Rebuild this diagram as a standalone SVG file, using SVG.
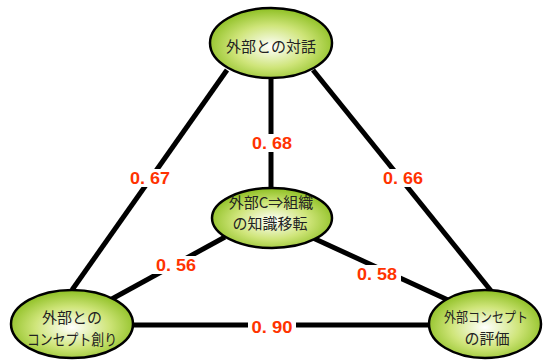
<svg xmlns="http://www.w3.org/2000/svg" width="543" height="361" viewBox="0 0 543 361">
<defs>
<radialGradient id="g" cx="50%" cy="55%" r="55%">
<stop offset="0%" stop-color="#ffffff"/>
<stop offset="55%" stop-color="#cfe57a"/>
<stop offset="100%" stop-color="#8dbf22"/>
</radialGradient>
<style>
.e{fill:url(#g);stroke:#000;stroke-width:2.5}
.t{font-family:"Noto Sans CJK JP","Noto Sans",sans-serif;font-size:15px;fill:#222;text-anchor:middle}
.c line{stroke:#000;stroke-width:5}
.lb{fill:#fff}
.l{font-family:"Liberation Sans",Arial,sans-serif;font-weight:bold;font-size:17px;fill:#ff3300;text-anchor:middle}
</style>
</defs>
<rect width="543" height="361" fill="#fff"/>
<g id="connectors" class="c">
<line x1="227" y1="70" x2="72" y2="290"/>
<line x1="313" y1="70" x2="492" y2="292"/>
<line x1="271" y1="76" x2="271" y2="190"/>
<line x1="225" y1="237" x2="110" y2="300"/>
<line x1="313" y1="238" x2="448" y2="300"/>
<line x1="130" y1="325" x2="432" y2="325"/>
<rect class="lb" x="126" y="169" width="48" height="18"/>
<text class="l" x="150" y="184" textLength="40" lengthAdjust="spacingAndGlyphs">0. 67</text>
<rect class="lb" x="379" y="169" width="48" height="18"/>
<text class="l" x="403" y="184" textLength="40" lengthAdjust="spacingAndGlyphs">0. 66</text>
<rect class="lb" x="248" y="134" width="48" height="18"/>
<text class="l" x="272" y="149" textLength="40" lengthAdjust="spacingAndGlyphs">0. 68</text>
<rect class="lb" x="152" y="256" width="48" height="18"/>
<text class="l" x="176" y="271" textLength="40" lengthAdjust="spacingAndGlyphs">0. 56</text>
<rect class="lb" x="353" y="265" width="48" height="18"/>
<text class="l" x="377" y="280" textLength="40" lengthAdjust="spacingAndGlyphs">0. 58</text>
<rect class="lb" x="248" y="317" width="48" height="18"/>
<text class="l" x="272" y="333" textLength="41" lengthAdjust="spacingAndGlyphs">0. 90</text>
</g>
<g id="n-taiwa">
<ellipse class="e" cx="271" cy="43" rx="61" ry="35"/>
<text class="t" x="271" y="52">外部との対話</text>
</g>
<g id="n-iten">
<ellipse class="e" cx="272" cy="218" rx="60" ry="30"/>
<text class="t" x="271" y="208">外部C⇒組織</text>
<text class="t" x="270" y="229">の知識移転</text>
</g>
<g id="n-souzou">
<ellipse class="e" cx="72" cy="324" rx="61" ry="34"/>
<text class="t" x="72" y="323">外部との</text>
<text class="t" x="72" y="345" textLength="90" lengthAdjust="spacingAndGlyphs">コンセプト創り</text>
</g>
<g id="n-hyouka">
<ellipse class="e" cx="485" cy="324" rx="56" ry="34"/>
<text class="t" x="486" y="322" style="font-size:14px" textLength="84" lengthAdjust="spacingAndGlyphs">外部コンセプト</text>
<text class="t" x="487" y="344">の評価</text>
</g>
</svg>
